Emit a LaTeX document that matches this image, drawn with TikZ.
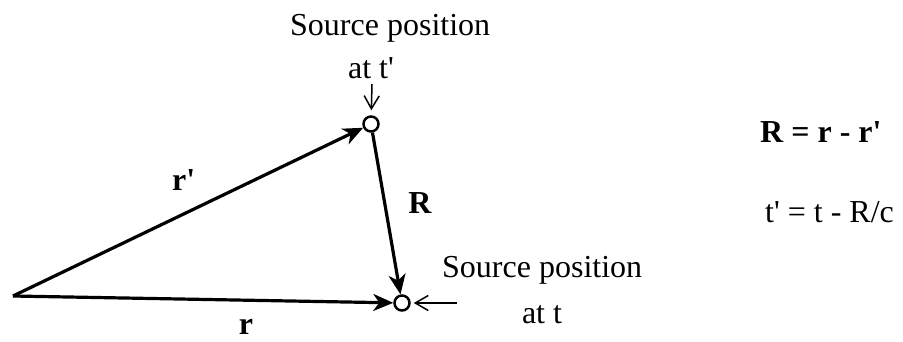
\documentclass[tikz,border=0pt]{standalone}
\usepackage{fontspec}
\setmainfont{Liberation Serif}
\usetikzlibrary{arrows.meta}
\newcommand{\qs}{\textquotesingle}
\begin{document}
\begin{tikzpicture}[x=1pt,y=-1pt,
  txt/.style={inner sep=0pt,font=\fontsize{32}{36}\selectfont},
  btxt/.style={inner sep=0pt,font=\fontsize{32}{36}\selectfont\bfseries},
  dot/.style={circle,draw,line width=2.5pt,minimum size=15pt,inner sep=0pt,fill=white},
  vec/.style={line width=3.2pt,-{Stealth[length=20pt,width=17pt,inset=6pt]}},
  pointer/.style={line width=1.5pt,-{Straight Barb[length=13pt,width=15pt,line width=1.5pt]}}]
\useasboundingbox (0,0) rectangle (903,341);
\coordinate (O) at (13,296);
\node[dot] (A) at (371,124) {};
\node[dot] (B) at (402,303) {};
\coordinate (Ptop) at (372,84);
\coordinate (Pright) at (457,303);
\draw[vec] (O) -- (A);
\draw[vec] (O) -- (B);
\draw[vec] (A) -- (B);
\draw[pointer,shorten >=5pt] (Ptop) -- (A);
\draw[pointer,shorten >=3pt] (Pright) -- (B);
\node[txt,anchor=base west] (s1) at (290,35) {Source position};
\node[txt,anchor=base] (t1) at (371,78) {at t\qs};
\node[txt,anchor=base west] (s2) at (442,277) {Source position};
\node[txt,anchor=base] (t2) at (542,323) {at t};
\node[btxt,anchor=base west] (lrp) at (172,190) {r\qs};
\node[btxt] (lR) at (420,203) {R};
\node[btxt,anchor=base] (lr) at (246,334) {r};
\node[btxt,anchor=base west] (e1) at (760,142) {R = r - r\qs};
\node[txt,anchor=base west] (e2) at (765,222) {t\qs\ = t - R/c};
\end{tikzpicture}
\end{document}
